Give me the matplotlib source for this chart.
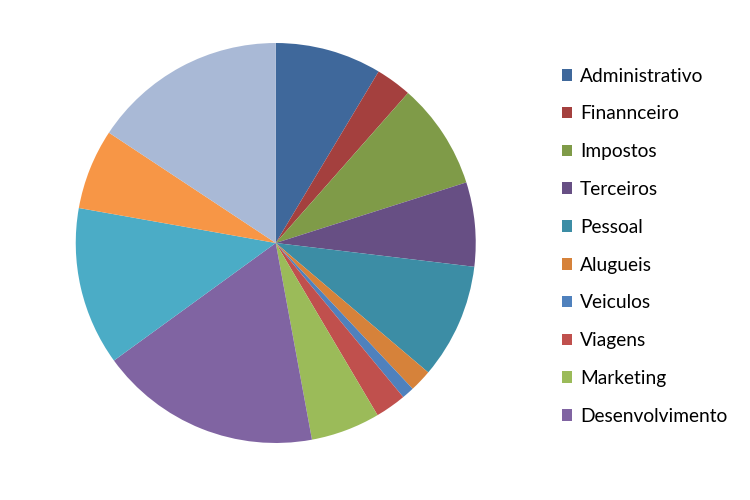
import matplotlib.pyplot as plt

# slice shares (percent), clockwise from 12 o'clock
labels = ["Administrativo", "Finannceiro", "Impostos", "Terceiros", "Pessoal",
          "Alugueis", "Veiculos", "Viagens", "Marketing", "Desenvolvimento",
          "", "", ""]
values = [8.6, 2.9, 8.6, 6.8, 9.3, 1.8, 1.0, 2.5, 5.6, 17.9, 12.8, 6.5, 15.7]
colors = ["#3F689B", "#A4403E", "#7F9B48", "#674F84", "#3C8DA5", "#D6823A",
          "#4F81BD", "#C0504D", "#9BBB59", "#8064A2", "#4BACC6", "#F79646",
          "#A9B9D6"]
n_legend = 10

plt.rcParams['font.family'] = ['Lato', 'DejaVu Sans']

fig = plt.figure(figsize=(7.5, 5), dpi=100)
ax = fig.add_axes([0.101, 0.114, 0.5333, 0.8])

wedges, _ = ax.pie(values, colors=colors, startangle=90, counterclock=False,
                   radius=1.0, wedgeprops=dict(linewidth=0))
ax.set_xlim(-1, 1)
ax.set_ylim(-1, 1)
ax.set_aspect('equal')
ax.axis('off')

fig.legend(wedges[:n_legend], labels[:n_legend], loc='upper left',
           bbox_to_anchor=(0.736, 0.884), frameon=False, fontsize=13.8,
           handlelength=0.55, handleheight=0.55, handletextpad=0.4,
           labelspacing=1.085, borderpad=0)

fig.savefig("out.png", dpi=100)
